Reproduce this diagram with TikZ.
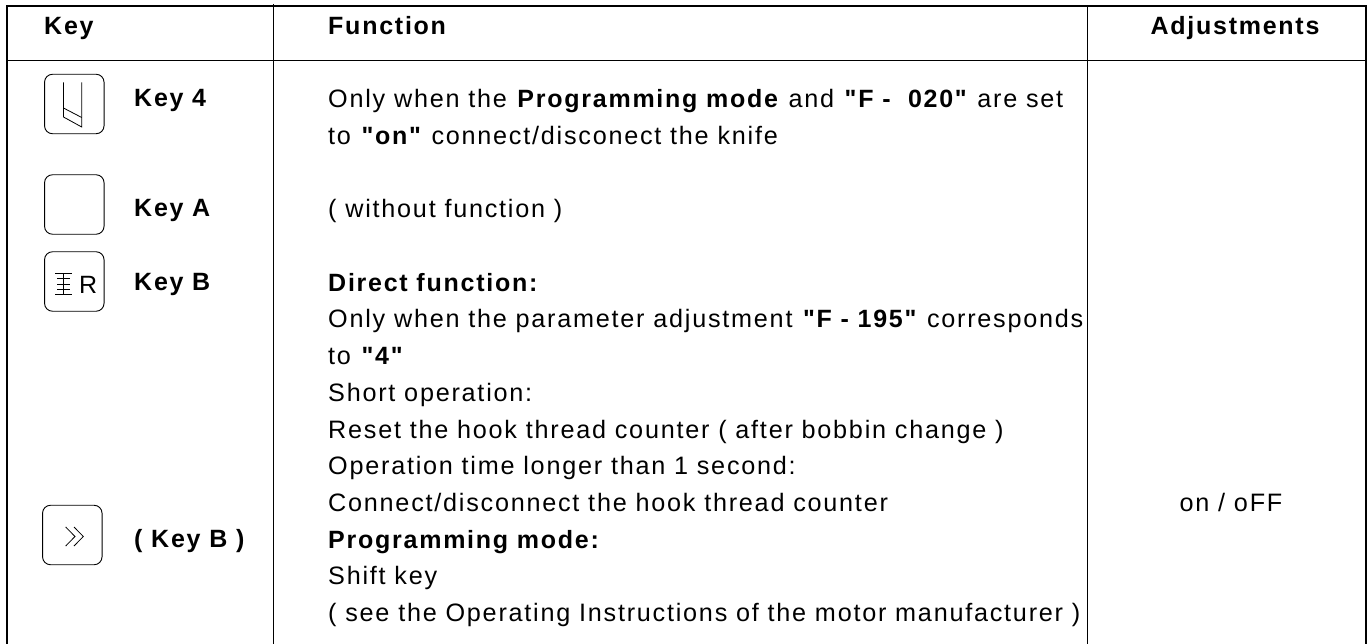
\documentclass[tikz,border=0pt]{standalone}
\usepackage{fontspec}
\setmainfont{Liberation Sans}[LetterSpace=7,Ligatures=TeXOff]
\newfontfamily\plainR{Liberation Sans}
\tikzset{
 x=1pt,y=-1pt,
 frame/.style={line width=2pt,line join=miter},
 rule/.style={line width=1.2pt},
 keybox/.style={draw,line width=.9pt,rounded corners=8pt,minimum width=59.5pt,minimum height=59.5pt,inner sep=0pt},
 glyph/.style={line width=.8pt},
 txt/.style={anchor=base west,inner sep=0pt,font=\fontsize{25.2}{30}\selectfont},
 btxt/.style={txt,font=\fontsize{25}{30}\selectfont\bfseries},
}
\begin{document}
\begin{tikzpicture}
\useasboundingbox (0,0) rectangle (1372,644);
\draw[frame] (6.5,6) rectangle (1366,646);
\draw[rule] (6.5,60.5)--(1366,60.5);
\draw[rule] (273.5,4)--(273.5,644);
\draw[rule] (1087.5,6)--(1087.5,644);
\node[btxt] (hk) at (44,35) {Key};
\node[btxt] (hf) at (328,35) {Function};
\node[btxt,anchor=base] (ha) at (1235,35) {Adjustments};
\node[keybox] (k4) at (74.3,104) {};
\node[keybox] (ka) at (74.3,204.5) {};
\node[keybox] (kb) at (74.3,281.5) {};
\node[keybox] (ks) at (72.3,535) {};
\draw[glyph] (63.5,82.5)--(63.5,117)--(81.7,127)--(81.7,82.5);
\draw[glyph] (63.5,108)--(81.7,117.5);
\draw[glyph] (63.4,273.5)--(63.4,294) (55,273.5)--(71.7,273.5) (57,278.5)--(70,278.5) (57,284)--(70,284) (57,289)--(70,289) (55,294)--(71.7,294);
\node[txt,font=\fontsize{25}{30}\selectfont\plainR] (r) at (79,293) {R};
\draw[glyph] (65.7,527)--(75,536.5)--(65.7,546) (74,527)--(83.3,536.5)--(74,546);
\node[btxt] (l4) at (134,107) {Key 4};
\node[btxt] (la) at (134,217) {Key A};
\node[btxt] (lb) at (134,290) {Key B};
\node[btxt] (ls) at (134,547) {( Key B )};
\node[txt] (a1) at (328,108) {Only when the \textbf{\fontsize{25}{30}\selectfont Programming mode} and \textbf{\fontsize{25}{30}\selectfont"F -~~020"} are set};
\node[txt] (a2) at (328,144.5) {to \textbf{\fontsize{25}{30}\selectfont"on"} connect/disconect the knife};
\node[txt] (a3) at (328,218) {( without function )};
\node[btxt] (a4) at (328,291) {Direct function:};
\node[txt] (a5) at (328,327.5) {Only when the parameter adjustment \textbf{\fontsize{25}{30}\selectfont"F - 195"} corresponds};
\node[txt] (a6) at (328,364) {to \textbf{\fontsize{25}{30}\selectfont"4"}};
\node[txt] (a7) at (328,401) {Short operation:};
\node[txt] (a8) at (328,438) {Reset the hook thread counter ( after bobbin change )};
\node[txt] (a9) at (328,474) {Operation time longer than 1 second:};
\node[txt] (a10) at (328,511) {Connect/disconnect the hook thread counter};
\node[btxt] (a11) at (328,548) {Programming mode:};
\node[txt] (a12) at (328,584) {Shift key};
\node[txt] (a13) at (328,621) {( see the Operating Instructions of the motor manufacturer )};
\node[txt,anchor=base] (on) at (1231,511) {on / oFF};
\end{tikzpicture}
\end{document}
